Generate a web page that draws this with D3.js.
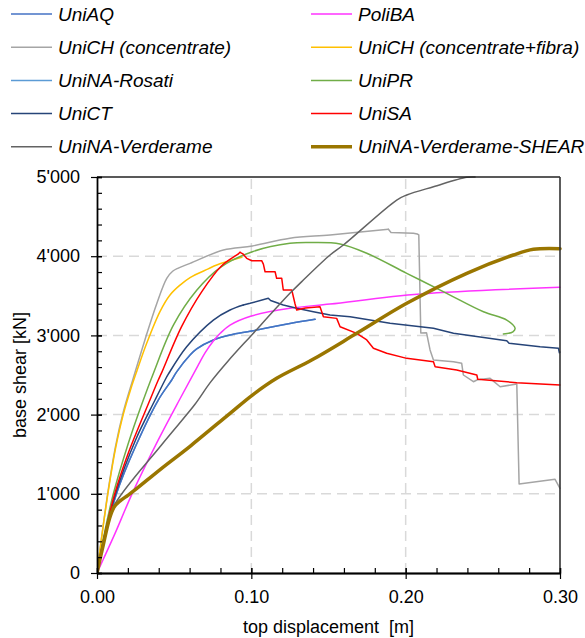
<!DOCTYPE html>
<html><head><meta charset="utf-8">
<script src="https://cdn.jsdelivr.net/npm/d3@7"></script>
<style>
body{margin:0;background:#fff}
svg{display:block}
text{font-family:"Liberation Sans",Arial,Helvetica,sans-serif;fill:#000}
</style>
</head><body>
<svg id="chart" width="585" height="638"></svg>
<script>
// ---------- data ----------
const xTicks = [0, 0.10, 0.20, 0.30];
const yTicks = [0, 1000, 2000, 3000, 4000, 5000];
const xTitle = "top displacement  [m]";
const yTitle = "base shear [kN]";

const seriesNames = ["UniAQ","PoliBA","UniCH (concentrate)","UniCH (concentrate+fibra)","UniNA-Rosati","UniPR","UniCT","UniSA","UniNA-Verderame","UniNA-Verderame-SHEAR"];
const seriesColors = ["#4472C4","#FF33FF","#A5A5A5","#FFC000","#5B9BD5","#70AD47","#264478","#FF0000","#636363","#9A7600"];

const uniAQ = [[0,0],[0.005,440],[0.0126,1000],[0.025,1600],[0.0397,2184],[0.0484,2437],[0.0516,2540],[0.0603,2752],[0.0646,2830],[0.0754,2942],[0.0862,3005],[0.1,3055],[0.125,3150],[0.1413,3203]];
const poliBA = [[0,0],[0.004,170],[0.0117,500],[0.0225,990],[0.0397,1680],[0.0538,2200],[0.0613,2470],[0.066,2640],[0.07,2780],[0.0754,2930],[0.08,3030],[0.0862,3130],[0.1,3245],[0.125,3342],[0.151,3396],[0.2093,3523],[0.3,3607]];
const uniCHconc = [[0,0],[0.004,600],[0.008,1140],[0.012,1600],[0.017,2030],[0.0235,2460],[0.031,2940],[0.0387,3400],[0.0452,3720],[0.049,3810],[0.0527,3850],[0.0603,3910],[0.0819,4078],[0.1007,4129],[0.125,4226],[0.151,4268],[0.1888,4339],[0.1905,4300],[0.205,4290],[0.2075,4280],[0.2085,4270],[0.2098,3030],[0.2135,3034],[0.2158,2816],[0.218,2689],[0.231,2668],[0.2363,2647],[0.2374,2500],[0.2439,2415],[0.2465,2440],[0.2547,2458],[0.2612,2352],[0.272,2386],[0.2735,1124],[0.2968,1183],[0.3,1069]];
const uniCHfibra = [[0,0],[0.004,590],[0.008,1120],[0.012,1570],[0.017,2000],[0.022,2330],[0.026,2560],[0.0322,2900],[0.0408,3300],[0.0473,3510],[0.0538,3635],[0.0603,3730],[0.0721,3840],[0.0776,3889],[0.0938,3986]];
const uniNARosati = [[0,0],[0.005,440],[0.0126,1000],[0.025,1600],[0.0397,2184],[0.0484,2437],[0.0516,2540],[0.0603,2752],[0.0646,2830],[0.0754,2942],[0.0862,3005],[0.1,3055],[0.125,3150],[0.1413,3203]];
const uniPR = [[0,0],[0.005,520],[0.0106,1000],[0.02,1620],[0.029,2130],[0.0365,2520],[0.0495,3130],[0.0646,3570],[0.08,3860],[0.1007,4057],[0.125,4163],[0.14,4172],[0.1575,4154],[0.1748,4037],[0.2007,3784],[0.2266,3531],[0.2504,3299],[0.2655,3194],[0.2709,3090],[0.2695,3045],[0.2633,3018]];
const uniCT = [[0,0],[0.005,470],[0.012,1000],[0.025,1680],[0.0376,2184],[0.0441,2437],[0.0462,2510],[0.0581,2857],[0.0754,3194],[0.0862,3321],[0.0948,3384],[0.0992,3405],[0.111,3470],[0.1125,3440],[0.1207,3384],[0.1294,3342],[0.1402,3299],[0.151,3258],[0.164,3236],[0.1899,3152],[0.218,3089],[0.231,3026],[0.2655,2933],[0.267,2900],[0.2871,2857],[0.299,2837],[0.2996,2781],[0.3,2790]];
const uniSA = [[0,0],[0.005,480],[0.0115,1000],[0.02,1500],[0.0343,2184],[0.0397,2437],[0.0419,2530],[0.0548,3110],[0.0678,3550],[0.0808,3880],[0.0916,4030],[0.0927,4049],[0.0945,4030],[0.097,3973],[0.1003,3943],[0.1067,3943],[0.1078,3901],[0.1089,3804],[0.1154,3804],[0.1164,3721],[0.1197,3721],[0.1207,3573],[0.1262,3573],[0.1283,3400],[0.1294,3321],[0.135,3345],[0.1445,3362],[0.1467,3236],[0.1553,3215],[0.1575,3110],[0.1683,3026],[0.1748,2942],[0.1791,2837],[0.1877,2774],[0.2007,2710],[0.218,2668],[0.2191,2605],[0.2331,2563],[0.2461,2500],[0.2467,2446],[0.272,2403],[0.3,2374]];
const uniNAVerderame = [[0,0],[0.005,480],[0.0106,837],[0.0419,1620],[0.0635,2130],[0.0732,2400],[0.0851,2680],[0.1,3000],[0.125,3531],[0.1337,3699],[0.151,4015],[0.1596,4141],[0.1942,4709],[0.2007,4773],[0.218,4877],[0.2396,4996],[0.245,5000]];
const uniNAVerderameShear = [[0,0],[0.004,350],[0.008,680],[0.011,830],[0.015,910],[0.02,980],[0.0246,1048],[0.0419,1322],[0.0603,1600],[0.0862,2016],[0.1007,2247],[0.1164,2458],[0.1391,2689],[0.1683,3026],[0.2007,3405],[0.2396,3784],[0.2698,4015],[0.2828,4087],[0.3,4095]];

const seriesData = [uniAQ, poliBA, uniCHconc, uniCHfibra, uniNARosati, uniPR, uniCT, uniSA, uniNAVerderame, uniNAVerderameShear];
// number of leading points drawn as a smooth curve (rest drawn straight, for stepped parts)
const smoothCount = [99, 99, 17, 99, 99, 99, 11, 12, 99, 99];
const seriesWidths = [1.5,1.5,1.5,1.5,1.5,1.5,1.5,1.5,1.5,3.5];
const drawOrder = [4,0,1,2,3,5,6,7,8,9];

// ---------- layout ----------
const svg = d3.select("#chart");
const L = 97, R = 560, T = 177, B = 573;
const x = d3.scaleLinear().domain([0, 0.3]).range([L, R]);
const y = d3.scaleLinear().domain([0, 5000]).range([B, T]);
const fmtY = d3.formatLocale({decimal: ".", thousands: "'", grouping: [3], currency: ["", ""]}).format(",");
const fmtX = d3.format(".2f");

// grid
const grid = svg.append("g").attr("stroke", "#D9D9D9").attr("stroke-width", 1.5).attr("stroke-dasharray", "10,6");
grid.selectAll("line.gx").data([0.1, 0.2]).enter().append("line")
  .attr("x1", d => x(d)).attr("x2", d => x(d)).attr("y1", B).attr("y2", T);
grid.selectAll("line.gy").data([1000, 2000, 3000, 4000]).enter().append("line")
  .attr("x1", L).attr("x2", R).attr("y1", d => y(d)).attr("y2", d => y(d));

// series
svg.append("defs").append("clipPath").attr("id", "clip").append("rect")
  .attr("x", L).attr("y", T - 2).attr("width", R - L + 2).attr("height", B - T + 4);
const smoothLine = d3.line().x(d => x(d[0])).y(d => y(d[1])).curve(d3.curveCatmullRom.alpha(0.5));
const straightLine = d3.line().x(d => x(d[0])).y(d => y(d[1]));
const plot = svg.append("g").attr("clip-path", "url(#clip)");
drawOrder.forEach(i => {
  const data = seriesData[i];
  const n = Math.min(smoothCount[i], data.length);
  const g = plot.append("g").attr("fill", "none").attr("stroke", seriesColors[i])
    .attr("stroke-width", seriesWidths[i]).attr("stroke-linejoin", "round").attr("stroke-linecap", "round");
  g.append("path").attr("d", smoothLine(data.slice(0, n)));
  if (n < data.length) g.append("path").attr("d", straightLine(data.slice(n - 1)));
});

// frame top/right
svg.append("line").attr("x1", L).attr("x2", R).attr("y1", T).attr("y2", T).attr("stroke", "#222").attr("stroke-width", 1.3);
svg.append("line").attr("x1", R).attr("x2", R).attr("y1", T).attr("y2", B).attr("stroke", "#333").attr("stroke-width", 1.6);

// axes
const xMinor = d3.range(0, 0.3001, 0.02);
const yMinor = d3.range(0, 5001, 200);
const gx = svg.append("g").attr("transform", `translate(0,${B})`);
gx.call(d3.axisBottom(x).tickValues(xMinor).tickSize(-5).tickFormat(""));
gx.append("g").call(d3.axisBottom(x).tickValues(xTicks).tickSizeInner(6).tickSizeOuter(0).tickPadding(11).tickFormat(fmtX));
gx.append("g").call(d3.axisBottom(x).tickValues(xTicks).tickSizeInner(-5).tickSizeOuter(0).tickFormat(""));
const gy = svg.append("g").attr("transform", `translate(${L},0)`);
gy.call(d3.axisLeft(y).tickValues(yMinor).tickSize(-5).tickFormat(""));
gy.append("g").call(d3.axisLeft(y).tickValues(yTicks).tickSizeInner(6).tickSizeOuter(0).tickPadding(11).tickFormat(fmtY));
gy.append("g").call(d3.axisLeft(y).tickValues(yTicks).tickSizeInner(-5).tickSizeOuter(0).tickFormat(""));
svg.selectAll(".domain").attr("stroke", "#000").attr("stroke-width", 1.3);
svg.selectAll(".tick line").attr("stroke", "#000").attr("stroke-width", 1.2);
svg.selectAll(".tick text").attr("font-size", 18).attr("font-family", "Liberation Sans, Arial, sans-serif").attr("fill", "#000");

// titles
svg.append("text").attr("x", (L + R) / 2).attr("y", 633).attr("text-anchor", "middle")
  .attr("font-size", 18).style("white-space", "pre").text(xTitle);
svg.append("text").attr("transform", `translate(26,${(T + B) / 2}) rotate(-90)`).attr("text-anchor", "middle")
  .attr("font-size", 18).text(yTitle);

// legend (two columns, row-major order)
const leg = svg.append("g");
seriesNames.forEach((name, i) => {
  const col = i % 2, row = Math.floor(i / 2);
  const lx = col === 0 ? 11 : 311;
  const ly = 14 + row * 33.2;
  leg.append("line").attr("x1", lx).attr("x2", lx + 41).attr("y1", ly).attr("y2", ly)
    .attr("stroke", seriesColors[i]).attr("stroke-width", i === 9 ? 3.5 : 1.5);
  leg.append("text").attr("x", lx + 47).attr("y", ly).attr("dy", "0.35em")
    .attr("font-size", 19).attr("font-style", "italic").text(name);
});
</script>
</body></html>
